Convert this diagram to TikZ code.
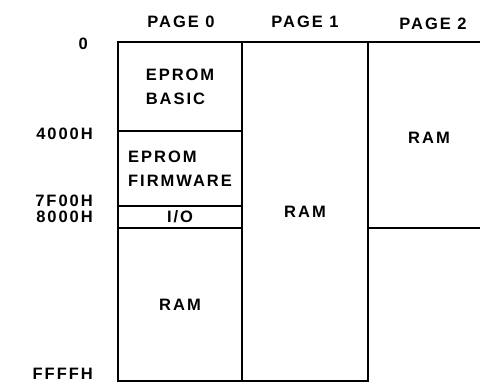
\documentclass[tikz,border=0pt]{standalone}
\usepackage{fontspec}
\newfontfamily\mapfont[LetterSpace=12]{Liberation Sans}
\usetikzlibrary{positioning}

\begin{document}
\begin{tikzpicture}[
  x=1pt, y=-1pt,
  font=\mapfont\bfseries\fontsize{16.5}{24}\selectfont,
  region/.style={draw, line width=1.8pt, inner sep=0pt, outer sep=0pt, anchor=north west, align=left, minimum width=124pt},
  addr/.style={anchor=east, inner sep=0pt},
  head/.style={inner sep=0pt}
]
\useasboundingbox (0,0) rectangle (480,385);

% Page 0
\node[region, minimum height=89pt] (basic) at (118,42) {EPROM\\BASIC};
\node[region, minimum height=75pt, below=0pt of basic] (firmware) {EPROM\\FIRMWARE};
\node[region, minimum height=22pt, below=0pt of firmware] (io) {I/O};
\node[region, minimum height=153pt, below=0pt of io] (ram0) {RAM};

% Page 1
\node[region, minimum width=126pt, minimum height=339pt] (ram1) at (242,42) {RAM};

% Page 2, open on the right
\coordinate (p2top) at (480,42);
\coordinate (p2bot) at (480,228);
\draw[line width=1.8pt] (ram1.north east) -- (p2top);
\draw[line width=1.8pt] (ram1.east |- io.south) -- (p2bot);
\node (ram2) at (429,138) {RAM};

% headings
\node[head] (page0) at (181,22) {PAGE 0};
\node[head] (page1) at (305,22) {PAGE 1};
\node[head] (page2) at (433,24) {PAGE 2};

% addresses
\node[addr] (a0) at (88,44) {0};
\node[addr] (a4000) at (93,134) {4000H};
\node[addr] (a7f00) at (93,201) {7F00H};
\node[addr] (a8000) at (93,217) {8000H};
\node[addr] (affff) at (93,374) {FFFFH};

\end{tikzpicture}
\end{document}
